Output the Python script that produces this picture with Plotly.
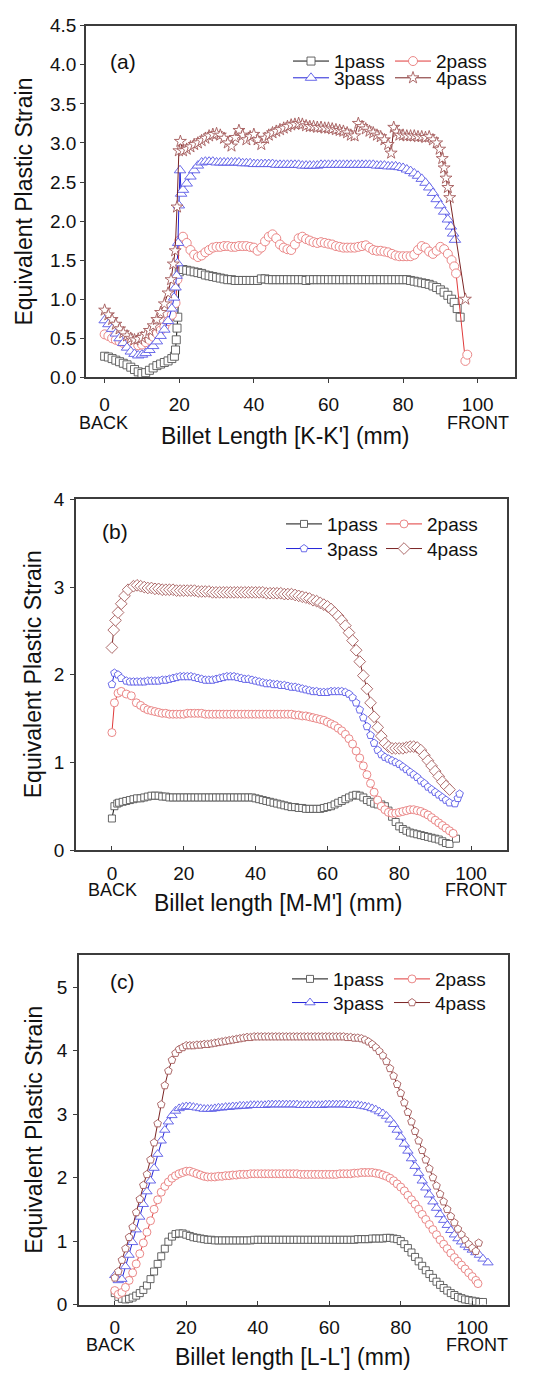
import plotly.graph_objects as go

# ---------------- data: panel (a), section K-K' ----------------
a1_x = list(range(0, 19)) + [18.7, 19.0, 19.2, 19.4, 19.6] + list(range(20, 94)) + [93.7, 94.5, 95.3]
a1_y = [0.27, 0.26, 0.24, 0.22, 0.20, 0.18, 0.16, 0.13, 0.10, 0.07, 0.05, 0.06, 0.09, 0.12, 0.15, 0.17, 0.19, 0.21, 0.24,
        0.27, 0.35, 0.48, 0.63, 0.77,
        1.35, 1.38, 1.37, 1.36, 1.35, 1.34, 1.33, 1.31, 1.30, 1.29,
        1.28, 1.27, 1.26, 1.25, 1.25, 1.24, 1.24, 1.24, 1.24, 1.24,
        1.24, 1.24, 1.26, 1.26, 1.25, 1.25, 1.25, 1.25, 1.25, 1.25,
        1.25, 1.25, 1.25, 1.25, 1.24, 1.25, 1.25, 1.25, 1.25, 1.25,
        1.25, 1.25, 1.25, 1.25, 1.25, 1.25, 1.25, 1.25, 1.25, 1.25,
        1.25, 1.25, 1.25, 1.25, 1.25, 1.25, 1.25, 1.25, 1.25, 1.25,
        1.25, 1.25, 1.24, 1.23, 1.22, 1.21, 1.20, 1.19, 1.17, 1.15,
        1.12, 1.09, 1.05, 1.00,
        0.96, 0.88, 0.77]

a2_x = list(range(0, 20)) + [19.5] + list(range(20, 94)) + [93.7, 94.2, 96.7, 97.2]
a2_y = [0.55, 0.53, 0.50, 0.48, 0.46, 0.44, 0.42, 0.41, 0.40, 0.41, 0.42, 0.45, 0.48, 0.52, 0.56, 0.60, 0.65, 0.72, 0.80, 0.95,
        1.25,
        1.75, 1.80, 1.72, 1.63, 1.57, 1.54, 1.56, 1.60, 1.63, 1.66,
        1.67, 1.67, 1.68, 1.68, 1.67, 1.67, 1.68, 1.68, 1.68, 1.67,
        1.66, 1.62, 1.66, 1.74, 1.80, 1.83, 1.78, 1.70, 1.66, 1.64,
        1.63, 1.70, 1.78, 1.80, 1.77, 1.75, 1.73, 1.72, 1.73, 1.72,
        1.71, 1.70, 1.68, 1.67, 1.66, 1.66, 1.66, 1.66, 1.67, 1.68,
        1.69, 1.66, 1.63, 1.62, 1.62, 1.61, 1.60, 1.58, 1.56, 1.55,
        1.55, 1.55, 1.55, 1.57, 1.63, 1.68, 1.66, 1.61, 1.58, 1.62,
        1.67, 1.64, 1.58, 1.50,
        1.42, 1.33, 0.21, 0.29]

a3_x = list(range(0, 19)) + [18.6, 19.0, 19.3, 19.5, 19.7, 19.9, 20.2, 20.5] + list(range(21, 93)) + [92.8, 93.4, 93.9]
a3_y = [0.73, 0.68, 0.62, 0.56, 0.50, 0.44, 0.38, 0.33, 0.30, 0.28, 0.29, 0.31, 0.35, 0.40, 0.46, 0.53, 0.61, 0.72, 0.88,
        1.02, 1.15, 1.30, 1.46, 1.72, 2.20, 2.65, 2.35,
        2.40, 2.48, 2.57, 2.65, 2.71, 2.75, 2.76, 2.76, 2.76, 2.75,
        2.75, 2.75, 2.75, 2.75, 2.75, 2.75, 2.74, 2.74, 2.74, 2.73,
        2.73, 2.73, 2.73, 2.73, 2.73, 2.72, 2.72, 2.72, 2.72, 2.72,
        2.72, 2.72, 2.71, 2.71, 2.71, 2.71, 2.71, 2.72, 2.72, 2.72,
        2.72, 2.72, 2.72, 2.72, 2.72, 2.72, 2.72, 2.72, 2.72, 2.72,
        2.72, 2.72, 2.71, 2.71, 2.71, 2.70, 2.70, 2.70, 2.69, 2.68,
        2.66, 2.64, 2.61, 2.58, 2.54, 2.49, 2.43, 2.36, 2.28, 2.20,
        2.12, 2.02,
        1.93, 1.84, 1.76]

a4_x = (list(range(0, 18)) + [17.8, 18.4, 18.9, 19.4, 19.9, 20.3] + list(range(21, 77)) + [76.8, 77.5, 78.3]
        + list(range(79, 90)) + [89.8, 90.5, 91.0, 91.5, 92.0, 92.5, 96.7])
a4_y = [0.86, 0.80, 0.74, 0.68, 0.62, 0.57, 0.53, 0.50, 0.48, 0.49, 0.51, 0.55, 0.60, 0.66, 0.74, 0.83, 0.94, 1.08,
        1.25, 1.45, 1.62, 2.18, 2.90, 3.02,
        2.90, 2.92, 2.95, 2.98, 3.00, 3.03, 3.06, 3.09, 3.11, 3.12,
        3.10, 3.06, 3.00, 2.96, 3.07, 3.16, 3.10, 3.04, 3.08, 3.11,
        3.04, 2.98, 3.06, 3.10, 3.13, 3.15, 3.17, 3.19, 3.21, 3.23,
        3.24, 3.25, 3.24, 3.22, 3.21, 3.21, 3.20, 3.20, 3.19, 3.19,
        3.18, 3.17, 3.16, 3.15, 3.13, 3.10, 3.09, 3.25, 3.21, 3.18,
        3.15, 3.13, 3.10, 3.08, 3.04, 2.98,
        2.87, 3.20, 3.14,
        3.10, 3.10, 3.09, 3.09, 3.09, 3.08, 3.08, 3.07, 3.08, 3.04, 3.00,
        2.92, 2.80, 2.68, 2.55, 2.43, 2.30, 1.00]

# ---------------- data: panel (b), section M-M' ----------------
b1_x = [0, 0.7, 1.5] + list(range(2, 95)) + [95.8]
b1_y = [0.36, 0.50, 0.53,
        0.54, 0.55, 0.56, 0.57, 0.58, 0.59, 0.59, 0.60, 0.61, 0.62,
        0.62, 0.62, 0.61, 0.61, 0.60, 0.60, 0.60, 0.60, 0.60, 0.60,
        0.60, 0.60, 0.60, 0.60, 0.60, 0.60, 0.60, 0.60, 0.60, 0.60,
        0.60, 0.60, 0.60, 0.60, 0.60, 0.60, 0.60, 0.60, 0.59, 0.58,
        0.57, 0.56, 0.55, 0.54, 0.53, 0.52, 0.51, 0.50, 0.49, 0.49,
        0.48, 0.48, 0.47, 0.47, 0.47, 0.47, 0.47, 0.48, 0.49, 0.50,
        0.52, 0.54, 0.56, 0.58, 0.60, 0.62, 0.63, 0.62, 0.60, 0.57,
        0.55, 0.53, 0.52, 0.52, 0.50, 0.45, 0.38, 0.32, 0.27, 0.24,
        0.22, 0.20, 0.19, 0.18, 0.17, 0.16, 0.15, 0.14, 0.13, 0.12,
        0.10, 0.08, 0.07,
        0.13]

b2_x = [0, 0.7, 1.7, 2.6, 4.0, 5.4, 6.8] + list(range(8, 96))
b2_y = [1.34, 1.68, 1.79, 1.81, 1.78, 1.76, 1.68,
        1.65, 1.62, 1.60, 1.59, 1.58, 1.57, 1.56, 1.56, 1.55, 1.55,
        1.55, 1.55, 1.55, 1.56, 1.56, 1.56, 1.56, 1.56, 1.55, 1.55,
        1.55, 1.55, 1.55, 1.55, 1.55, 1.55, 1.55, 1.55, 1.55, 1.55,
        1.55, 1.55, 1.55, 1.55, 1.55, 1.55, 1.55, 1.55, 1.55, 1.55,
        1.55, 1.55, 1.55, 1.54, 1.54, 1.53, 1.53, 1.52, 1.51, 1.50,
        1.49, 1.48, 1.46, 1.44, 1.42, 1.39, 1.36, 1.32, 1.27, 1.21,
        1.13, 1.05, 0.96, 0.86, 0.76, 0.66, 0.57, 0.50, 0.46, 0.43,
        0.42, 0.42, 0.43, 0.44, 0.45, 0.46, 0.46, 0.45, 0.44, 0.42,
        0.40, 0.37, 0.34, 0.31, 0.28, 0.25, 0.22, 0.19]

b3_x = [0, 0.7, 1.7, 2.6] + list(range(4, 95)) + [95.5, 96.3, 96.8]
b3_y = [1.89, 2.02, 2.00, 1.96,
        1.93, 1.92, 1.92, 1.92, 1.92, 1.92, 1.93, 1.93, 1.93, 1.93,
        1.94, 1.94, 1.95, 1.96, 1.97, 1.98, 1.98, 1.98, 1.98, 1.97,
        1.96, 1.95, 1.94, 1.94, 1.94, 1.95, 1.96, 1.97, 1.98, 1.98,
        1.98, 1.97, 1.96, 1.95, 1.95, 1.94, 1.93, 1.92, 1.91, 1.90,
        1.90, 1.89, 1.89, 1.88, 1.88, 1.87, 1.86, 1.86, 1.85, 1.84,
        1.83, 1.82, 1.81, 1.81, 1.80, 1.80, 1.80, 1.81, 1.81, 1.81,
        1.81, 1.80, 1.78, 1.74, 1.68, 1.60, 1.51, 1.41, 1.31, 1.22,
        1.14, 1.09, 1.06, 1.04, 1.02, 1.00, 0.98, 0.95, 0.92, 0.89,
        0.86, 0.83, 0.79, 0.76, 0.72, 0.69, 0.66, 0.63, 0.60, 0.57, 0.54,
        0.53, 0.59, 0.64]

b4_x = [0, 0.5, 1.0, 1.7, 2.6, 3.5, 4.5] + list(range(6, 95))
b4_y = [2.31, 2.51, 2.62, 2.71, 2.81, 2.90, 2.97,
        3.01, 3.02, 3.01, 3.00, 2.99, 2.99, 2.98, 2.98, 2.97, 2.97,
        2.97, 2.97, 2.96, 2.96, 2.96, 2.96, 2.96, 2.96, 2.95, 2.95,
        2.95, 2.95, 2.94, 2.94, 2.94, 2.94, 2.94, 2.94, 2.94, 2.94,
        2.94, 2.94, 2.94, 2.94, 2.94, 2.94, 2.94, 2.93, 2.93, 2.93,
        2.93, 2.93, 2.92, 2.92, 2.92, 2.91, 2.90, 2.89, 2.88, 2.87,
        2.85, 2.84, 2.82, 2.80, 2.78, 2.75, 2.71, 2.67, 2.62, 2.56,
        2.48, 2.39, 2.28, 2.15, 1.99, 1.84, 1.68, 1.52, 1.40, 1.30,
        1.22, 1.18, 1.16, 1.16, 1.16, 1.16, 1.17, 1.18, 1.18, 1.17,
        1.14, 1.08, 1.02, 0.96, 0.90, 0.84, 0.78, 0.73, 0.69]

# ---------------- data: panel (c), section L-L' ----------------
c1_x = list(range(0, 104))
c1_y = [0.18, 0.12, 0.09, 0.08, 0.09, 0.11, 0.14, 0.18, 0.23, 0.30,
        0.40, 0.52, 0.64, 0.76, 0.88, 0.99, 1.07, 1.11, 1.12, 1.12,
        1.10, 1.08, 1.06, 1.05, 1.04, 1.03, 1.02, 1.02, 1.01, 1.01,
        1.01, 1.01, 1.01, 1.01, 1.01, 1.01, 1.01, 1.01, 1.01, 1.02,
        1.02, 1.02, 1.02, 1.02, 1.02, 1.02, 1.02, 1.02, 1.02, 1.02,
        1.02, 1.02, 1.02, 1.02, 1.02, 1.02, 1.02, 1.02, 1.02, 1.02,
        1.02, 1.02, 1.02, 1.02, 1.02, 1.02, 1.02, 1.02, 1.03, 1.03,
        1.03, 1.03, 1.04, 1.04, 1.04, 1.04, 1.05, 1.05, 1.04, 1.03,
        1.00, 0.95, 0.89, 0.82, 0.75, 0.68, 0.61, 0.54, 0.48, 0.42,
        0.36, 0.31, 0.26, 0.22, 0.18, 0.15, 0.12, 0.10, 0.08, 0.07,
        0.06, 0.05, 0.04, 0.04]

c2_x = list(range(0, 102)) + [101.6]
c2_y = [0.22, 0.16, 0.19, 0.27, 0.38, 0.50, 0.64, 0.80, 0.97, 1.14,
        1.32, 1.50, 1.65, 1.77, 1.86, 1.93, 1.99, 2.03, 2.06, 2.08,
        2.10, 2.10, 2.08, 2.06, 2.04, 2.02, 2.01, 2.01, 2.01, 2.02,
        2.02, 2.03, 2.03, 2.04, 2.04, 2.05, 2.05, 2.05, 2.06, 2.06,
        2.06, 2.06, 2.06, 2.06, 2.06, 2.06, 2.06, 2.06, 2.06, 2.06,
        2.06, 2.06, 2.05, 2.05, 2.05, 2.05, 2.05, 2.05, 2.05, 2.05,
        2.05, 2.05, 2.05, 2.06, 2.06, 2.06, 2.06, 2.07, 2.07, 2.08,
        2.08, 2.08, 2.08, 2.07, 2.06, 2.04, 2.02, 1.99, 1.95, 1.90,
        1.85, 1.79, 1.72, 1.65, 1.58, 1.50, 1.42, 1.34, 1.26, 1.18,
        1.10, 1.02, 0.95, 0.88, 0.81, 0.74, 0.68, 0.62, 0.56, 0.50,
        0.44, 0.38, 0.33]

c3_x = list(range(0, 104)) + [104.4]
c3_y = [0.46, 0.38, 0.40, 0.60, 0.78, 0.98, 1.18, 1.38, 1.58, 1.78,
        1.95, 2.15, 2.37, 2.58, 2.75, 2.88, 2.98, 3.05, 3.09, 3.11,
        3.12, 3.12, 3.11, 3.10, 3.09, 3.08, 3.08, 3.08, 3.09, 3.10,
        3.10, 3.11, 3.11, 3.12, 3.12, 3.13, 3.13, 3.13, 3.14, 3.14,
        3.14, 3.14, 3.14, 3.15, 3.15, 3.15, 3.15, 3.15, 3.15, 3.15,
        3.15, 3.15, 3.14, 3.14, 3.14, 3.14, 3.14, 3.14, 3.14, 3.15,
        3.15, 3.15, 3.15, 3.15, 3.15, 3.15, 3.14, 3.14, 3.14, 3.13,
        3.12, 3.11, 3.09, 3.07, 3.04, 3.01, 2.97, 2.91, 2.84, 2.75,
        2.64, 2.53, 2.42, 2.30, 2.18, 2.07, 1.95, 1.84, 1.73, 1.62,
        1.52, 1.42, 1.33, 1.25, 1.17, 1.10, 1.04, 0.99, 0.94, 0.90,
        0.86, 0.82, 0.78, 0.72,
        0.66]

c4_x = list(range(0, 102)) + [101.8]
c4_y = [0.42, 0.52, 0.70, 0.88, 1.06, 1.22, 1.45, 1.66, 1.88, 2.05,
        2.28, 2.55, 2.85, 3.15, 3.45, 3.68, 3.85, 3.96, 4.02, 4.05,
        4.08, 4.08, 4.08, 4.09, 4.09, 4.10, 4.10, 4.11, 4.12, 4.13,
        4.14, 4.15, 4.16, 4.17, 4.18, 4.19, 4.20, 4.21, 4.21, 4.22,
        4.22, 4.22, 4.22, 4.22, 4.22, 4.22, 4.22, 4.22, 4.22, 4.22,
        4.22, 4.22, 4.22, 4.22, 4.22, 4.22, 4.22, 4.22, 4.22, 4.22,
        4.22, 4.22, 4.22, 4.22, 4.22, 4.21, 4.21, 4.20, 4.20, 4.19,
        4.17, 4.14, 4.10, 4.05, 3.99, 3.92, 3.83, 3.72, 3.60, 3.47,
        3.33, 3.18, 3.03, 2.88, 2.73, 2.58, 2.43, 2.28, 2.14, 2.00,
        1.87, 1.74, 1.62, 1.50, 1.39, 1.29, 1.19, 1.10, 1.02, 0.95,
        0.89, 0.84, 0.97]

series_names = ["1pass", "2pass", "3pass", "4pass"]
x_ticks = [0, 20, 40, 60, 80, 100]

# ---------------- styling ----------------
W, H = 539, 1382
FONT = "Liberation Sans, Arial, sans-serif"
AXIS_COLOR = "#3c3c3c"

line_colors = ["#111111", "#e03a3a", "#2323d8", "#7a2424"]
mark_colors = ["#555555", "#e87a7a", "#5a5ae6", "#a45a5a"]

# x ticks: (a) crosses the axis, (b)/(c) point inward; y ticks cross the axis in all panels
panels = [
    dict(key="a", data=[(a1_x, a1_y), (a2_x, a2_y), (a3_x, a3_y), (a4_x, a4_y)],
         symbols=["square", "circle", "triangle-up", "star"], sizes=[8, 9, 10, 9],
         box=(86, 515, 16, 373), xr=[-5, 110], yr=[0, 4.5], ydtick=0.5, yfmt=".1f",
         xticks=("outside", True), xstand=5, ystand=0, ticklen=4,
         xlabel="Billet Length [K-K'] (mm)",
         xtitle_pos=(285, 433), ytitle_pos=(24.5, 195), backfront_y=419, back_x=103, front_x=478,
         tag="(a)", tag_pos=(123, 52), leg_rows=(52, 69), leg_cols=(293, 395)),
    dict(key="b", data=[(b1_x, b1_y), (b2_x, b2_y), (b3_x, b3_y), (b4_x, b4_y)],
         symbols=["square", "circle", "pentagon", "diamond"], sizes=[7, 8, 8, 9],
         box=(76, 507, 497, 853), xr=[-10, 110], yr=[0, 4], ydtick=1, yfmt="d",
         xticks=("inside", False), xstand=5, ystand=2, ticklen=4,
         xlabel="Billet length [M-M'] (mm)",
         xtitle_pos=(278, 907), ytitle_pos=(32.5, 675), backfront_y=894, back_x=112, front_x=476,
         tag="(b)", tag_pos=(115, 530), leg_rows=(522, 547), leg_cols=(286, 386)),
    dict(key="c", data=[(c1_x, c1_y), (c2_x, c2_y), (c3_x, c3_y), (c4_x, c4_y)],
         symbols=["square", "circle", "triangle-up", "pentagon"], sizes=[7, 8, 9, 8],
         box=(79, 508, 960, 1314.5), xr=[-10, 110], yr=[0, 5.5], ydtick=1, yfmt="d",
         xticks=("inside", False), xstand=5, ystand=2, ticklen=4,
         xlabel="Billet length [L-L'] (mm)",
         xtitle_pos=(293, 1368), ytitle_pos=(34, 1137), backfront_y=1356, back_x=110, front_x=477,
         tag="(c)", tag_pos=(122, 986), leg_rows=(984, 1008), leg_cols=(292, 394)),
]

fig = go.Figure()
layout = dict(width=W, height=H, margin=dict(l=0, r=0, t=0, b=0),
              paper_bgcolor="white", plot_bgcolor="white", showlegend=True,
              font=dict(family=FONT, color="#111111"))
annotations = []
legend_no = 0
tickfont = dict(size=19, family=FONT, color="#111")

for p_idx, p in enumerate(panels):
    sfx = "" if p_idx == 0 else str(p_idx + 1)
    osfx = str(p_idx + 4)          # overlay axes carrying the inner half of crossing ticks
    x0, x1, y0, y1 = p["box"]
    xdir, x_cross = p["xticks"]
    tl = p["ticklen"]
    layout["xaxis" + sfx] = dict(
        domain=[x0 / W, x1 / W], range=p["xr"], anchor="y" + sfx,
        tickmode="array", tickvals=x_ticks, ticks=xdir, ticklen=tl, tickwidth=1.2,
        tickcolor=AXIS_COLOR, showline=True, linecolor=AXIS_COLOR, linewidth=1.5, mirror=True,
        showgrid=False, zeroline=False, tickfont=tickfont, ticklabelstandoff=p["xstand"])
    layout["yaxis" + sfx] = dict(
        domain=[1 - y1 / H, 1 - y0 / H], range=p["yr"], anchor="x" + sfx,
        dtick=p["ydtick"], tick0=0, tickformat=p["yfmt"], ticks="outside", ticklen=tl,
        tickwidth=1.2, tickcolor=AXIS_COLOR, showline=True, linecolor=AXIS_COLOR, linewidth=1.5,
        mirror=True, showgrid=False, zeroline=False, tickfont=tickfont,
        ticklabelstandoff=p["ystand"])
    layout["yaxis" + osfx] = dict(
        overlaying="y" + sfx, anchor="x" + sfx, side="left", range=p["yr"],
        dtick=p["ydtick"], tick0=0, ticks="inside", ticklen=tl, tickwidth=1.2, tickcolor=AXIS_COLOR,
        showticklabels=False, showline=False, showgrid=False, zeroline=False)
    if x_cross:
        layout["xaxis" + osfx] = dict(
            overlaying="x" + sfx, anchor="y" + sfx, side="bottom", range=p["xr"],
            tickmode="array", tickvals=x_ticks, ticks="inside", ticklen=tl, tickwidth=1.2,
            tickcolor=AXIS_COLOR, showticklabels=False, showline=False, showgrid=False,
            zeroline=False)

    for s_idx, (xs, ys) in enumerate(p["data"]):
        legend_no += 1
        lname = "legend" if legend_no == 1 else "legend%d" % legend_no
        fig.add_trace(go.Scatter(
            x=xs, y=ys, name=series_names[s_idx], mode="lines+markers",
            xaxis="x" + sfx, yaxis="y" + sfx, legend=lname,
            line=dict(color=line_colors[s_idx], width=1),
            marker=dict(symbol=p["symbols"][s_idx], size=p["sizes"][s_idx], color="white",
                        line=dict(color=mark_colors[s_idx], width=0.9))))
        row_y = p["leg_rows"][s_idx // 2]
        col_x = p["leg_cols"][s_idx % 2]
        layout[lname] = dict(x=(col_x - 5) / W, y=1 - row_y / H, xanchor="left", yanchor="middle",
                             orientation="h", bgcolor="rgba(0,0,0,0)", borderwidth=0,
                             font=dict(size=19, family=FONT, color="#111"), itemwidth=36,
                             itemclick=False)

    def ann(text, xpx, ypx, size, angle=0):
        annotations.append(dict(text=text, x=xpx / W, y=1 - ypx / H, xref="paper", yref="paper",
                                showarrow=False, xanchor="center", yanchor="middle",
                                textangle=angle, font=dict(size=size, family=FONT, color="#111")))

    ann(p["xlabel"], *p["xtitle_pos"], 23)
    ann("Equivalent Plastic Strain", *p["ytitle_pos"], 23, -90)
    ann("BACK", p["back_x"], p["backfront_y"], 18)
    ann("FRONT", p["front_x"], p["backfront_y"], 18)
    ann(p["tag"], *p["tag_pos"], 21)

layout["annotations"] = annotations
fig.update_layout(**layout)
fig.write_html("out.html")
